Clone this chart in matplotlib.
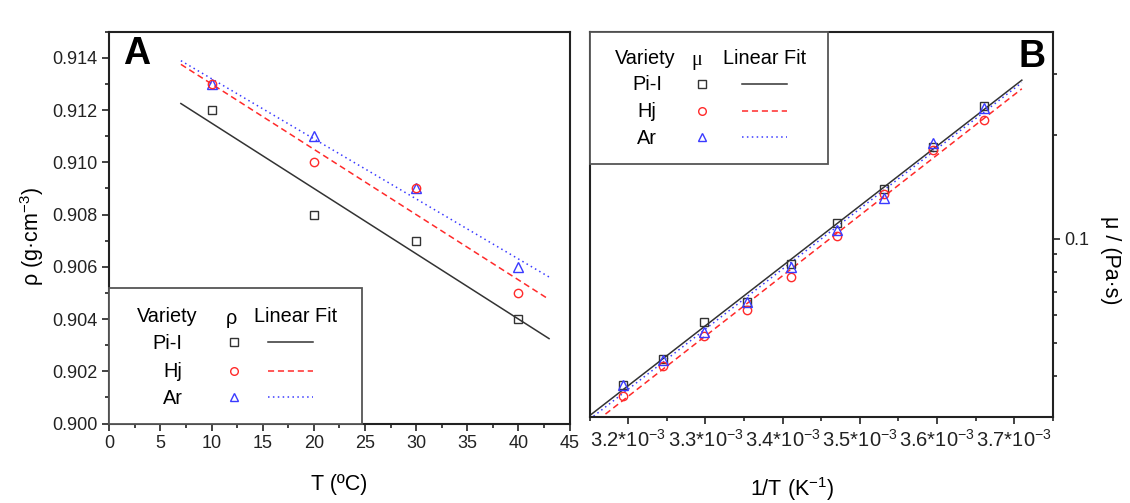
import matplotlib
matplotlib.use('Agg')
import matplotlib.pyplot as plt
import numpy as np
from matplotlib.lines import Line2D
from matplotlib.patches import Rectangle
from matplotlib.ticker import MultipleLocator, FixedLocator, NullFormatter, FuncFormatter

plt.rcParams['font.family'] = ['Liberation Sans', 'DejaVu Sans']
plt.rcParams['mathtext.fontset'] = 'custom'
plt.rcParams['mathtext.rm'] = 'Liberation Sans'
plt.rcParams['mathtext.it'] = 'Liberation Sans:italic'
plt.rcParams['mathtext.default'] = 'regular'
plt.rcParams['axes.unicode_minus'] = False

# panel A: density vs temperature
temp_a = [10, 20, 30, 40]
rho_pil = [0.912, 0.908, 0.907, 0.904]
rho_hj = [0.913, 0.910, 0.909, 0.905]
rho_ar = [0.913, 0.911, 0.909, 0.906]

# panel B: viscosity vs 1/T (temperatures in degC)
temp_b = [40, 35, 30, 25, 20, 15, 10, 5, 0]
mu_pil = [0.0378, 0.0447, 0.0574, 0.0655, 0.0846, 0.1110, 0.1395, 0.1841, 0.2415]
mu_hj = [0.0349, 0.0429, 0.0522, 0.0623, 0.0774, 0.1020, 0.1350, 0.1801, 0.2200]
mu_ar = [0.0376, 0.0446, 0.0537, 0.0655, 0.0828, 0.1057, 0.1314, 0.1891, 0.2394]

varieties = ['Pi-I', 'Hj', 'Ar']
colors = ['#333333', '#ff2a2a', '#3a3aff']
markers = ['s', 'o', '^']
styles = ['-', (0, (4, 2.5)), (0, (1, 2.2))]

W, H = 1130, 503


def fig_xy(x, y):
    return x / W, 1 - y / H


fig = plt.figure(figsize=(W / 100, H / 100), dpi=100)
axA = fig.add_axes([109.3 / W, 1 - 423.5 / H, (569.5 - 109.3) / W, (423.5 - 31.7) / H])
axB = fig.add_axes([589.7 / W, 1 - 416.7 / H, (1052.7 - 589.7) / W, (416.7 - 31.7) / H])

for ax in (axA, axB):
    for sp in ax.spines.values():
        sp.set_linewidth(1.5)
        sp.set_color('#222222')
    ax.tick_params(which='both', direction='out', width=1.2, labelsize=13,
                   colors='#222222')
    ax.tick_params(which='major', length=5)
    ax.tick_params(which='minor', length=3)
axB.tick_params(axis='x', labelsize=14.5)

# ---- panel A
xfit_a = np.array([7, 43])
order_a = [0, 2, 1]
rho_all = [rho_pil, rho_hj, rho_ar]
for i in range(3):
    k = np.polyfit(temp_a, rho_all[i], 1)
    axA.plot(xfit_a, np.polyval(k, xfit_a), color=colors[i], ls=styles[i], lw=1.1)
for i in order_a:
    axA.plot(temp_a, rho_all[i], ls='none', marker=markers[i], ms=6.5 if i == 2 else 6,
             mfc='none', mec=colors[i], mew=1.0)

axA.set_xlim(0, 45)
axA.set_ylim(0.900, 0.915)
axA.xaxis.set_major_locator(MultipleLocator(5))
axA.xaxis.set_minor_locator(MultipleLocator(2.5))
axA.yaxis.set_major_locator(FixedLocator(np.arange(0.900, 0.9145, 0.002)))
axA.yaxis.set_minor_locator(MultipleLocator(0.001))
axA.yaxis.set_major_formatter(FuncFormatter(lambda v, p: '%.3f' % v))
axA.set_xlabel('T (ºC)', fontsize=15.5)
axA.xaxis.set_label_coords(0.499, -0.129)
axA.set_ylabel('ρ (g·cm$^{-3}$)', fontsize=15.5, rotation_mode='default',
               ha='center', va='center')
axA.yaxis.set_label_coords(-0.168, 0.476)

# ---- panel B
inv_t = [1 / (t + 273.15) for t in temp_b]
xfit_b = np.array([3.14e-3, 3.71e-3])
mu_all = [mu_pil, mu_hj, mu_ar]
for i in range(3):
    k = np.polyfit(inv_t, np.log10(mu_all[i]), 1)
    axB.plot(xfit_b, 10 ** np.polyval(k, xfit_b), color=colors[i], ls=styles[i], lw=1.1)
for i in range(3):
    axB.plot(inv_t, mu_all[i], ls='none', marker=markers[i], ms=6.5 if i == 2 else 6,
             mfc='none', mec=colors[i], mew=1.0)

axB.set_yscale('log')
axB.set_xlim(3.15e-3, 3.75e-3)
axB.set_ylim(0.0305, 0.397)
axB.xaxis.set_major_locator(FixedLocator([3.2e-3, 3.3e-3, 3.4e-3, 3.5e-3, 3.6e-3, 3.7e-3]))
axB.xaxis.set_minor_locator(FixedLocator([3.15e-3, 3.25e-3, 3.35e-3, 3.45e-3,
                                          3.55e-3, 3.65e-3, 3.75e-3]))
axB.xaxis.set_major_formatter(FuncFormatter(lambda v, p: '%.1f*10$^{-3}$' % (v * 1e3)))
axB.yaxis.tick_right()
axB.yaxis.set_label_position('right')
axB.yaxis.set_major_locator(FixedLocator([0.1]))
axB.yaxis.set_major_formatter(FuncFormatter(lambda v, p: '0.1'))
axB.yaxis.set_minor_locator(FixedLocator([0.04, 0.05, 0.06, 0.07, 0.08, 0.09, 0.2, 0.3]))
axB.yaxis.set_minor_formatter(NullFormatter())
axB.set_xlabel('1/T (K$^{-1}$)', fontsize=15.5)
axB.xaxis.set_label_coords(0.437, -0.151)
axB.set_ylabel('μ / (Pa·s)', fontsize=15.5, rotation=270, rotation_mode='default',
               ha='center', va='center')
axB.yaxis.set_label_coords(1.124, 0.407)

# panel letters
fig.text(*fig_xy(137, 54), 'A', fontsize=27, fontweight='bold', ha='center', va='center')
fig.text(*fig_xy(1031.7, 57), 'B', fontsize=27, fontweight='bold', ha='center', va='center')


# table-style legends
def legend_box(x0, y0, x1, y1):
    fx0, fy1 = fig_xy(x0, y0)
    fx1, fy0 = fig_xy(x1, y1)
    fig.add_artist(Rectangle((fx0, fy0), fx1 - fx0, fy1 - fy0, transform=fig.transFigure,
                             facecolor='white', edgecolor='#555555', lw=1.3, zorder=5))


def legend_rows(head_x, head_y, sym, sym_x, fit_x, row_x, row_ha, row_y, mk_x, ln_x0, ln_x1,
                sym_family):
    fig.text(*fig_xy(head_x, head_y), 'Variety', fontsize=14.3, ha='center', va='center', zorder=6)
    fig.text(*fig_xy(sym_x, head_y + 2), sym, fontsize=14.3, ha='center', va='center',
             family=sym_family, zorder=6)
    fig.text(*fig_xy(fit_x, head_y), 'Linear Fit', fontsize=14.3, ha='center', va='center', zorder=6)
    for i, name in enumerate(varieties):
        fig.text(*fig_xy(row_x, row_y[i]), name, fontsize=14.3, ha=row_ha, va='center', zorder=6)
        mx, my = fig_xy(mk_x, row_y[i] - 1)
        fig.add_artist(Line2D([mx], [my], transform=fig.transFigure, ls='none',
                              marker=markers[i], ms=6 if i == 2 else 5.5, mfc='none',
                              mec=colors[i], mew=1.0, zorder=6))
        lx0, ly = fig_xy(ln_x0, row_y[i] - 1)
        lx1, _ = fig_xy(ln_x1, row_y[i] - 1)
        fig.add_artist(Line2D([lx0, lx1], [ly, ly], transform=fig.transFigure,
                              color=colors[i], ls=styles[i], lw=1.1, zorder=6))


legend_box(109.3, 288.3, 362.3, 423.5)
legend_rows(167, 316.7, 'ρ', 231.7, 295.7, 182.5, 'right', [343.3, 371.7, 398.3],
            234, 267.7, 313.3, ['Liberation Sans', 'DejaVu Sans'])

legend_box(589.7, 31.7, 828.3, 164.3)
legend_rows(645.5, 58.3, 'μ', 696.7, 764.3, 647, 'center', [85, 111.7, 138.3],
            701.7, 741.7, 787.3, ['Liberation Serif', 'DejaVu Serif'])

fig.savefig('out.png', dpi=100, facecolor='white')
